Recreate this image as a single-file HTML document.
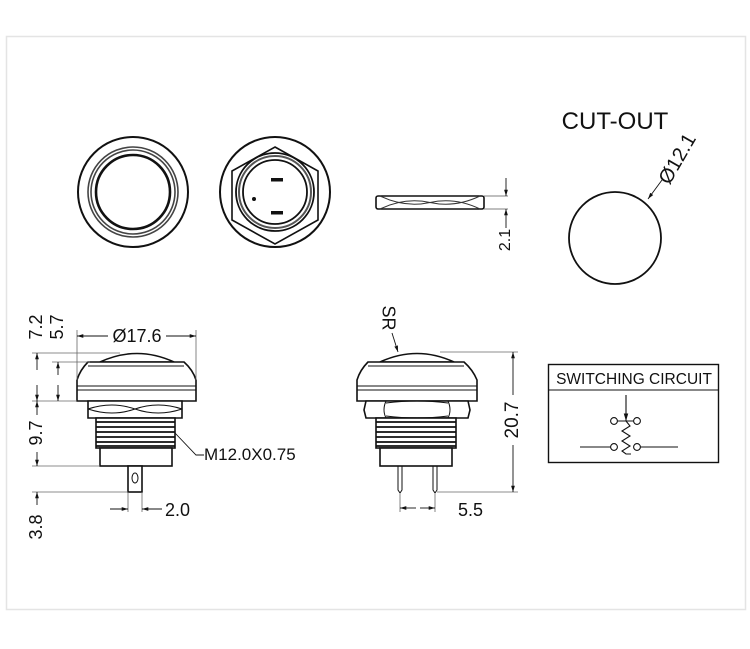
<!DOCTYPE html>
<html><head><meta charset="utf-8"><style>
html,body{margin:0;padding:0;background:#fff;width:750px;height:649px;overflow:hidden}
svg{display:block}
text{font-family:"Liberation Sans",Arial,sans-serif;fill:#111}
</style></head><body>
<svg width="750" height="649" viewBox="0 0 750 649" xmlns="http://www.w3.org/2000/svg">
<defs>
<marker id="a" viewBox="0 0 10 10" refX="10" refY="5" markerWidth="7" markerHeight="7" orient="auto-start-reverse"><path d="M0,2 L10,5 L0,8 z" fill="#111"/></marker>
</defs>
<rect x="6.5" y="36.5" width="739" height="573" fill="#fff" stroke="#e4e4e4" stroke-width="1.5"/>
<g fill="none" stroke="#111" stroke-width="1.6">
<circle cx="133" cy="192" r="55" stroke-width="2"/>
<circle cx="133" cy="192" r="45" stroke="#444"/>
<circle cx="133" cy="192" r="42" stroke="#444"/>
<circle cx="133" cy="192" r="37" stroke-width="2.6"/>
<circle cx="275" cy="192" r="55" stroke-width="2"/>
<polygon points="275,147 318,171 318,220 275,244 232,220 232,171"/>
<circle cx="275" cy="192" r="39" stroke-width="1.8"/>
<circle cx="275" cy="192" r="36" stroke="#555" stroke-width="2"/>
<circle cx="275" cy="192" r="32" stroke-width="1.8"/>
<rect x="376" y="196" width="108" height="13" rx="2"/>
<path d="M380,196 Q405,208 430,202.5 Q455,197 480,209 M380,209 Q405,197 430,202.5 Q455,208 480,196" stroke-width="1" stroke="#333"/>
<circle cx="615" cy="238" r="46" stroke-width="1.8"/>
</g>
<rect x="271" y="178" width="12" height="3.5" fill="#111"/>
<rect x="271" y="211" width="12" height="3.5" fill="#111"/>
<circle cx="254" cy="199" r="2" fill="#111"/>
<g stroke="#555" stroke-width="0.8" fill="none">
<line x1="484" y1="196" x2="508" y2="196"/><line x1="484" y1="209" x2="508" y2="209"/>
</g>
<g stroke="#111" stroke-width="0.9" fill="none">
<line x1="506" y1="178" x2="506" y2="196" marker-end="url(#a)"/>
<line x1="506" y1="228" x2="506" y2="209" marker-end="url(#a)"/>
<line x1="662" y1="180" x2="648" y2="199" marker-end="url(#a)"/>
</g>
<text x="506" y="240" font-size="16" text-anchor="middle" transform="rotate(-90 506 240)" dominant-baseline="middle">2.1</text>
<text x="615" y="129" font-size="24" text-anchor="middle">CUT-OUT</text>
<text x="683" y="162" font-size="20" text-anchor="middle" transform="rotate(-60 683 162)">Ø12.1</text>

<g fill="#fff" stroke="#111" stroke-width="1.6">
<path d="M100,362 Q137,345 174,362 Z"/>
<path d="M88,362 L184,362 Q193,370 196,380 L196,401 L77,401 L77,380 Q80,370 88,362 Z"/>
<path d="M88,401 L182,401 L182,418 L88,418 Z"/>
<rect x="96" y="418" width="79" height="30"/>
<rect x="100" y="448" width="72" height="18"/>
<rect x="128" y="466" width="14" height="26"/>
</g>
<g stroke="#111" fill="none" stroke-width="1">
<line x1="77" y1="386" x2="196" y2="386"/><line x1="77" y1="390" x2="196" y2="390"/>
<line x1="88" y1="366" x2="184" y2="366"/>
<path d="M88,409 Q112,401 135,409 Q158,417 182,409 M88,409 Q112,417 135,409 Q158,401 182,409"/>
<path d="M96,422H175M96,427H175M96,432H175M96,437H175M96,442H175M96,446H175" stroke-width="1.8"/>
<ellipse cx="135" cy="478" rx="3" ry="5"/>
</g>
<g stroke="#666" stroke-width="0.8" fill="none">
<line x1="32" y1="353" x2="120" y2="353"/>
<line x1="52" y1="362" x2="90" y2="362"/>
<line x1="32" y1="401" x2="77" y2="401"/>
<line x1="32" y1="466" x2="100" y2="466"/>
<line x1="32" y1="492" x2="128" y2="492"/>
<line x1="77" y1="330" x2="77" y2="380"/><line x1="196" y1="330" x2="196" y2="380"/>
<line x1="128" y1="492" x2="128" y2="512"/><line x1="142" y1="492" x2="142" y2="512"/>
</g>
<g stroke="#111" stroke-width="0.9" fill="none">
<line x1="108" y1="336" x2="77" y2="336" marker-end="url(#a)"/>
<line x1="166" y1="336" x2="196" y2="336" marker-end="url(#a)"/>
<line x1="37" y1="370" x2="37" y2="353" marker-end="url(#a)"/><line x1="37" y1="385" x2="37" y2="401" marker-end="url(#a)"/>
<line x1="58" y1="375" x2="58" y2="362" marker-end="url(#a)"/><line x1="58" y1="385" x2="58" y2="401" marker-end="url(#a)"/>
<line x1="37" y1="415" x2="37" y2="401" marker-end="url(#a)"/><line x1="37" y1="452" x2="37" y2="466" marker-end="url(#a)"/>
<line x1="37" y1="505" x2="37" y2="492" marker-end="url(#a)"/>
<line x1="110" y1="509" x2="128" y2="509" marker-end="url(#a)"/><line x1="162" y1="509" x2="142" y2="509" marker-end="url(#a)"/>
<polyline points="175,433 196,455 204,455"/>
</g>
<text x="137" y="342" font-size="18" text-anchor="middle">Ø17.6</text>
<text x="37" y="327" font-size="18" text-anchor="middle" dominant-baseline="middle" transform="rotate(-90 37 327)">7.2</text>
<text x="58" y="327" font-size="18" text-anchor="middle" dominant-baseline="middle" transform="rotate(-90 58 327)">5.7</text>
<text x="37" y="433" font-size="18" text-anchor="middle" dominant-baseline="middle" transform="rotate(-90 37 433)">9.7</text>
<text x="37" y="527" font-size="18" text-anchor="middle" dominant-baseline="middle" transform="rotate(-90 37 527)">3.8</text>
<text x="165" y="516" font-size="18">2.0</text>
<text x="204" y="460" font-size="17">M12.0X0.75</text>

<g fill="#fff" stroke="#111" stroke-width="1.6">
<path d="M380,362 Q417,345 454,362 Z"/>
<path d="M368,362 L464,362 Q473,370 477,380 L477,401 L357,401 L357,380 Q360,370 368,362 Z"/>
<path d="M366,401 L468,401 L470,410 L468,418 L366,418 L364,410 Z"/>
<rect x="376" y="418" width="80" height="30"/>
<rect x="380" y="448" width="72" height="18"/>
</g>
<g stroke="#111" fill="none" stroke-width="1">
<line x1="357" y1="386" x2="477" y2="386"/><line x1="357" y1="390" x2="477" y2="390"/>
<line x1="368" y1="366" x2="464" y2="366"/>
<path d="M386,401 Q382,410 386,418 M448,401 Q452,410 448,418 M386,403 Q417,399 448,403 M386,416 Q417,420 448,416"/>
<path d="M376,422H456M376,427H456M376,432H456M376,437H456M376,442H456M376,446H456" stroke-width="1.8"/>
<path d="M398,466V490L400,493L402,490V466M433,466V490L435,493L437,490V466"/>
</g>
<g stroke="#666" stroke-width="0.8" fill="none">
<line x1="440" y1="352" x2="518" y2="352"/>
<line x1="437" y1="492" x2="518" y2="492"/>
<line x1="400" y1="494" x2="400" y2="512"/><line x1="435" y1="494" x2="435" y2="512"/>
</g>
<g stroke="#111" stroke-width="0.9" fill="none">
<line x1="513" y1="395" x2="513" y2="352" marker-end="url(#a)"/>
<line x1="513" y1="445" x2="513" y2="492" marker-end="url(#a)"/>
<line x1="416" y1="508" x2="400" y2="508" marker-end="url(#a)"/>
<line x1="420" y1="508" x2="435" y2="508" marker-end="url(#a)"/>
<line x1="392" y1="333" x2="398" y2="352" marker-end="url(#a)"/>
</g>
<text x="513" y="420" font-size="19" text-anchor="middle" dominant-baseline="middle" transform="rotate(-90 513 420)">20.7</text>
<text x="387" y="318" font-size="18" text-anchor="middle" dominant-baseline="middle" transform="rotate(90 387 318)">SR</text>
<text x="458" y="516" font-size="18">5.5</text>

<rect x="548.5" y="364.5" width="170" height="98" fill="none" stroke="#111" stroke-width="1.4"/>
<line x1="548" y1="390" x2="719" y2="390" stroke="#111" stroke-width="1.1"/>
<text x="634" y="384" font-size="15.5" text-anchor="middle">SWITCHING CIRCUIT</text>
<g stroke="#111" stroke-width="1.1" fill="none">
<line x1="626" y1="395" x2="626" y2="421" marker-end="url(#a)"/>
<line x1="617" y1="421" x2="634" y2="421"/>
<circle cx="614" cy="421" r="3.4"/><circle cx="637" cy="421" r="3.4"/>
<circle cx="614" cy="447" r="3.4"/><circle cx="637" cy="447" r="3.4"/>
<line x1="580" y1="447" x2="610.6" y2="447"/><line x1="640.4" y1="447" x2="678" y2="447"/>
<polyline points="626,421 630,426 622,431 630,436 622,441 630,446 622,451 626,454 631,454"/>
</g>
</svg>
</body></html>
